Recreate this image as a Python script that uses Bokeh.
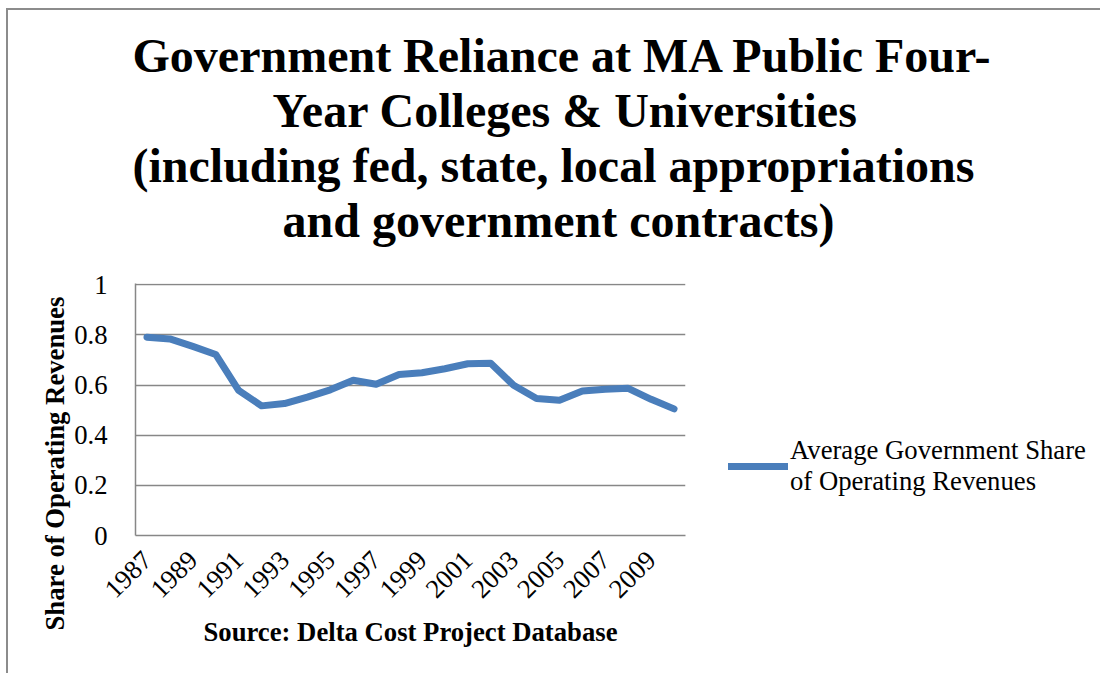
import math
from bokeh.plotting import figure
from bokeh.models import (ColumnDataSource, Range1d, FixedTicker, NumeralTickFormatter,
                          Title, Legend, LegendItem)
from bokeh.embed import file_html
from bokeh.resources import INLINE

# ---- data ----
years = list(range(1987, 2011))
share = [0.791, 0.784, 0.754, 0.722, 0.579, 0.517, 0.526, 0.552, 0.581, 0.619,
         0.603, 0.642, 0.649, 0.665, 0.685, 0.687, 0.599, 0.546, 0.539, 0.576,
         0.583, 0.587, 0.543, 0.505]
x_tick_years = years[::2]
y_ticks = [0, 0.2, 0.4, 0.6, 0.8, 1.0]
series_name = "Average Government Share\nof Operating Revenues"
title_lines = ["Government Reliance at MA Public Four-",
               "Year Colleges & Universities",
               "(including fed, state, local appropriations",
               "and government contracts)"]
title_left = [132, 272, 132, 282]   # left edge of each title line (px)
y_title = "Share of Operating Revenues"
x_title = "Source: Delta Cost Project Database"

FONT = "Liberation Serif"
GRID = "#878787"
BLUE = "#4A7EBB"
FS = "26.7px"

FRAME_L, FRAME_T = 127, 273
p = figure(frame_width=550, frame_height=252, output_backend="svg", toolbar_location=None,
           x_range=Range1d(years[0] - 0.5, years[-1] + 0.5),
           y_range=Range1d(0, 1.005),
           min_border_left=FRAME_L, min_border_right=413,
           min_border_top=FRAME_T, min_border_bottom=138,
           styles={"border-left": "2px solid #8c8c8c", "border-top": "2px solid #8c8c8c",
                   "margin-left": "6px", "margin-top": "8px"})
p.outline_line_color = None
p.title.visible = False

src = ColumnDataSource(dict(year=years, share=share))
r = p.line("year", "share", source=src, line_color=BLUE, line_width=7,
           line_cap="round", line_join="round")

# axes
p.xaxis.ticker = FixedTicker(ticks=x_tick_years)
p.xaxis.major_label_orientation = math.pi / 4
p.xaxis.major_tick_line_color = None
p.xaxis.minor_tick_line_color = None
p.xaxis.axis_line_color = GRID
p.xaxis.axis_line_width = 1.5
p.xaxis.major_label_text_font = FONT
p.xaxis.major_label_text_font_size = FS
p.xaxis.major_label_text_color = "black"
p.xaxis.major_label_standoff = 14
p.xaxis.axis_label = x_title
p.xaxis.axis_label_text_font = FONT
p.xaxis.axis_label_text_font_size = FS
p.xaxis.axis_label_text_font_style = "bold"
p.xaxis.axis_label_text_color = "black"
p.xaxis.axis_label_standoff = 8

p.yaxis.ticker = FixedTicker(ticks=y_ticks)
p.yaxis.formatter = NumeralTickFormatter(format="0.[0]")
p.yaxis.major_tick_line_color = None
p.yaxis.minor_tick_line_color = None
p.yaxis.axis_line_color = GRID
p.yaxis.axis_line_width = 1.5
p.yaxis.major_label_text_font = FONT
p.yaxis.major_label_text_font_size = FS
p.yaxis.major_label_text_color = "black"
p.yaxis.major_label_standoff = 22

p.xgrid.grid_line_color = None
p.ygrid.ticker = FixedTicker(ticks=y_ticks)
p.ygrid.grid_line_color = GRID
p.ygrid.grid_line_width = 1.5

# gap between the frame and the chart title
p.add_layout(Title(text=" ", text_font_size="1px", standoff=34), "above")
# chart title: one Title per line, stacked upward from the frame
for i in reversed(range(len(title_lines))):
    p.add_layout(Title(text=title_lines[i], align="left",
                       offset=title_left[i] - 135, standoff=0,
                       text_font=FONT, text_font_size="48px", text_font_style="bold",
                       text_color="black"), "above")

# y-axis title on the left
p.add_layout(Title(text=y_title, align="left", offset=-95, standoff=4,
                   text_font=FONT, text_font_size=FS, text_font_style="bold",
                   text_color="black"), "left")

legend = Legend(items=[LegendItem(label=series_name, renderers=[r])],
                location=(43, 38),
                glyph_width=60, glyph_height=30, label_standoff=2,
                padding=0, margin=0, spacing=0,
                border_line_color=None, background_fill_alpha=0,
                label_text_font=FONT, label_text_font_size=FS,
                label_text_color="black", label_text_line_height=1.2)
p.add_layout(legend, "right")

open("out.html", "w").write(file_html(p, INLINE))
